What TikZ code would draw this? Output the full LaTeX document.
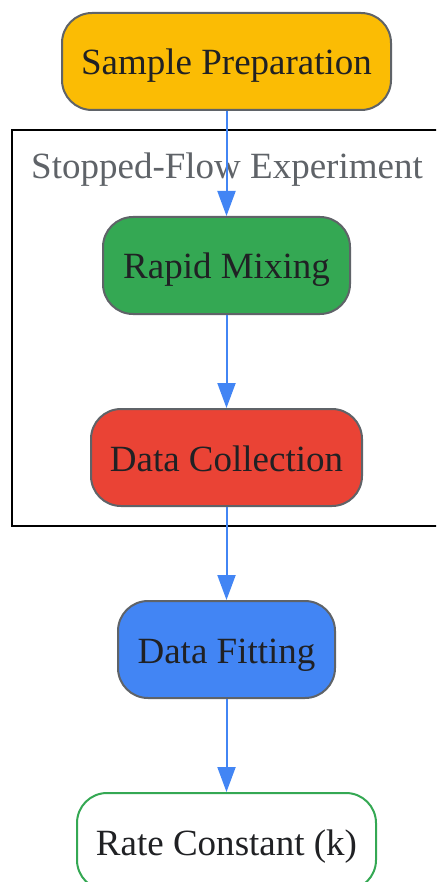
\documentclass[tikz,border=0pt]{standalone}
\usepackage{fontspec}
\setmainfont{Liberation Serif}
\usetikzlibrary{arrows.meta}
\definecolor{gyellow}{HTML}{FBBC04}
\definecolor{ggreen}{HTML}{34A853}
\definecolor{gred}{HTML}{EA4335}
\definecolor{gblue}{HTML}{4285F4}
\definecolor{gborder}{HTML}{5F6368}
\definecolor{gtext}{HTML}{202124}
\tikzset{
  procbox/.style={draw=gborder, line width=2pt, rounded corners=30pt, minimum height=97pt, inner sep=0pt, text height=27pt, text depth=0pt, text=gtext, font=\fontsize{37}{40}\selectfont},
  resultbox/.style={draw=ggreen, fill=white, line width=2pt, rounded corners=30pt, minimum height=97pt, inner sep=0pt, text height=27pt, text depth=0pt, text=gtext, font=\fontsize{37}{40}\selectfont},
  flow/.style={draw=gblue, line width=2pt, -{Triangle[length=25pt,width=18pt]}},
  clusterbox/.style={draw=black, line width=2pt},
  clusterlabel/.style={text=gborder, font=\fontsize{37}{40}\selectfont, anchor=base, inner sep=0pt}
}
\begin{document}
\begin{tikzpicture}[x=1pt,y=-1pt]
\useasboundingbox (0,0) rectangle (436,882);
\begin{scope}
\clip (0,0) rectangle (436,882);
\draw[clusterbox] (12,130) rectangle (450,526);
\node[clusterlabel] (cl) at (227,178.5) {Stopped-Flow Experiment};
\node[procbox, fill=gyellow, minimum width=329pt] (prep) at (226.5,61.5) {Sample Preparation};
\node[procbox, fill=ggreen, minimum width=247pt] (mix) at (226.5,265.5) {Rapid Mixing};
\node[procbox, fill=gred, minimum width=271pt] (coll) at (226.5,457.5) {Data Collection};
\node[procbox, fill=gblue, minimum width=217pt] (fit) at (226.5,649.5) {Data Fitting};
\node[resultbox, minimum width=299pt] (rate) at (226.5,841.5) {Rate Constant (k)};
\draw[flow] (prep) -- (mix);
\draw[flow] (mix) -- (coll);
\draw[flow] (coll) -- (fit);
\draw[flow] (fit) -- (rate);
\end{scope}
\end{tikzpicture}
\end{document}
